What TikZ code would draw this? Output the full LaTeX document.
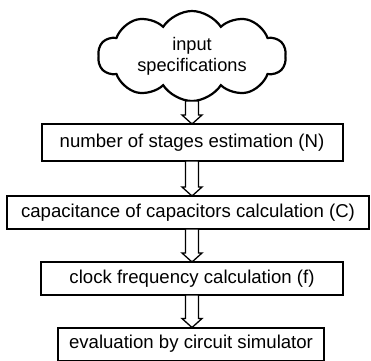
\documentclass[tikz,border=0pt]{standalone}
\usepackage{fontspec}
\setmainfont{Liberation Sans}
\usetikzlibrary{shapes.symbols,calc}
\tikzset{
  stagebox/.style={draw, line width=2pt, fill=white, inner sep=0pt, outer sep=0pt, minimum height=33pt, font=\fontsize{18.6}{21}\selectfont},
  cloudbox/.style={cloud, draw, line width=2.2pt, cloud puffs=10, cloud puff arc=115, cloud ignores aspect, minimum width=188pt, minimum height=90pt, inner sep=0pt, outer sep=0pt, align=center, font=\fontsize{18.2}{21}\selectfont},
  blockarrow/.style={draw, line width=1.3pt, fill=white, line join=miter,
    to path={let \p1=(\tikztostart), \p2=(\tikztotarget) in
      (\x1-6.5pt,\y1) -- (\x1-6.5pt,\y2+9pt) -- (\x1-10pt,\y2+9pt) -- (\x1,\y2) -- (\x1+10pt,\y2+9pt) -- (\x1+6.5pt,\y2+9pt) -- (\x1+6.5pt,\y1) -- cycle}}
}
\begin{document}
\begin{tikzpicture}[x=1pt,y=-1pt]
\useasboundingbox (0,0) rectangle (371,360);
\node[cloudbox] (cloud) at (192,56) {input\\specifications};
\node[stagebox, minimum width=301pt, minimum height=37pt] (n) at (192,142.5) {number of stages estimation (N)};
\node[stagebox, minimum width=362pt] (c) at (188,212.5) {capacitance of capacitors calculation (C)};
\node[stagebox, minimum width=302pt] (f) at (192,278.5) {clock frequency calculation (f)};
\node[stagebox, minimum width=266pt] (e) at (191,344) {evaluation by circuit simulator};
\draw[blockarrow] (cloud.south) to (n.north);
\draw[blockarrow] (n.south) to (c.north);
\draw[blockarrow] (c.south -| n.south) to (f.north);
\draw[blockarrow] (f.south) to (e.north);
\end{tikzpicture}
\end{document}
